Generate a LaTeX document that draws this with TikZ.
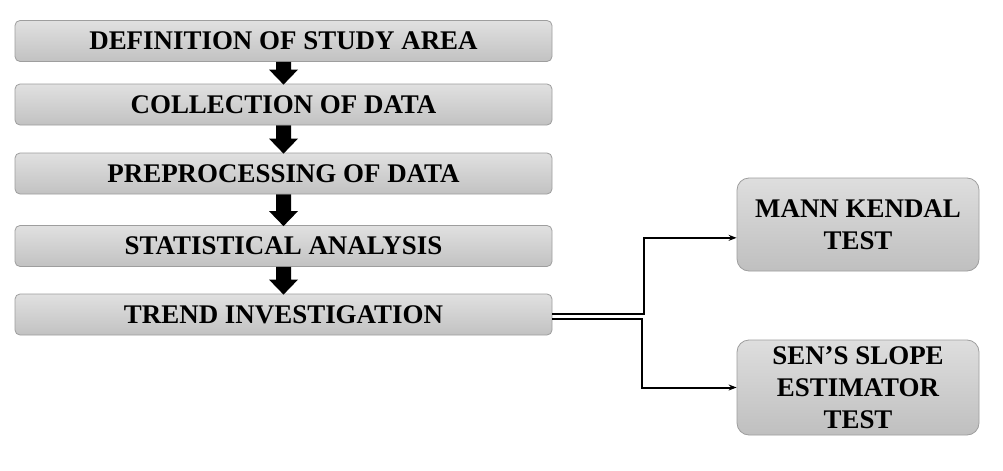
\documentclass[tikz,border=0pt]{standalone}
\usepackage{fontspec}
\setmainfont{Liberation Serif}
\usetikzlibrary{calc,arrows.meta}
\tikzset{
  box/.style={draw=black!38, line width=0.6pt, rounded corners=3.75pt,
    top color=black!12, bottom color=black!24, minimum width=402.75pt,
    minimum height=30.75pt, inner sep=0pt,
    font=\fontsize{20.2}{22}\selectfont\bfseries},
  rbox/.style={draw=black!38, line width=0.6pt, rounded corners=9pt,
    top color=black!13, bottom color=black!25, minimum width=181.5pt,
    inner sep=0pt, align=center,
    font=\fontsize{20.2}{24}\selectfont\bfseries},
  conn/.style={line width=1.5pt, black},
  tip/.style={-{Stealth[length=6pt,width=4.5pt]}},
}
\newcommand{\blockarrow}[2]{%
  \fill[black] ($(#1.south)+(-7.5,0)$) -- ($(#2.north)+(-7.5,-14)$)
    -- ($(#2.north)+(-14.5,-14)$) -- ($(#2.north)+(0,1)$)
    -- ($(#2.north)+(14.5,-14)$) -- ($(#2.north)+(7.5,-14)$)
    -- ($(#1.south)+(7.5,0)$) -- cycle;}
\begin{document}
\begin{tikzpicture}[x=0.75pt,y=-0.75pt]
\useasboundingbox[fill=white] (0,0) rectangle (1003,471);
\node[box] (D) at (283.5,41) {DEFINITION OF STUDY AREA};
\node[box] (C) at (283.5,104.5) {COLLECTION OF DATA};
\node[box] (P) at (283.5,173.5) {PREPROCESSING OF DATA};
\node[box] (S) at (283.5,246) {STATISTICAL ANALYSIS};
\node[box] (T) at (283.5,314.5) {TREND INVESTIGATION};
\node[rbox, minimum height=69.75pt] (M) at (858,224.5) {MANN KENDAL\\TEST};
\node[rbox, minimum height=71.25pt] (K) at (858,387.5) {SEN’S SLOPE\\ESTIMATOR\\TEST};
\blockarrow{D}{C}
\blockarrow{C}{P}
\blockarrow{P}{S}
\blockarrow{S}{T}
\draw[conn,tip] ([yshift=0.3pt]T.east) -- ++(92,0) |- ([yshift=-10pt]M.west);
\draw[conn,tip] ([yshift=-3.3pt]T.east) -- ++(90,0) |- (K.west);
\end{tikzpicture}
\end{document}
